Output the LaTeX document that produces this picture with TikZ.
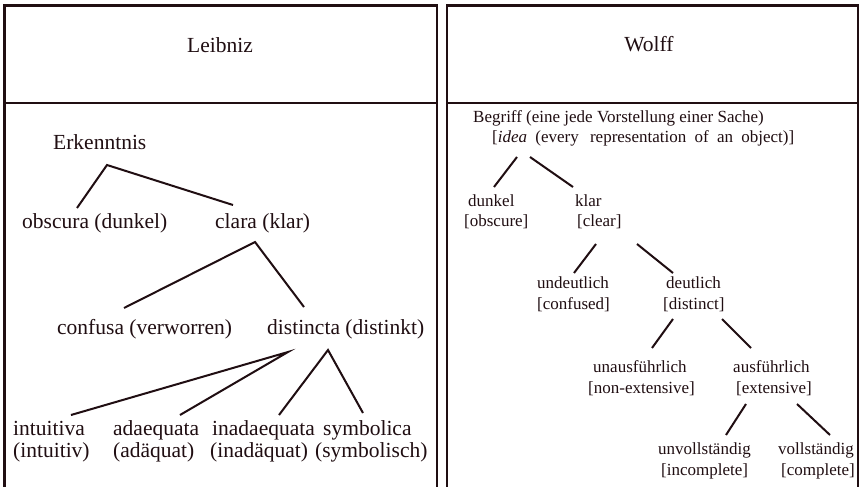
\documentclass[tikz,border=0pt]{standalone}
\usepackage{fontspec}
\setmainfont{Liberation Serif}
\definecolor{ink}{RGB}{32,14,18}
\begin{document}
\begin{tikzpicture}[x=1pt,y=-1pt,
  frame/.style={draw=ink,line width=2.6pt},
  edge/.style={draw=ink,line width=2pt},
  big/.style={font=\fontsize{21.5}{22}\selectfont,text=ink,inner sep=0pt,anchor=base west},
  small/.style={font=\fontsize{17}{20}\selectfont,text=ink,inner sep=0pt,anchor=base west},
  title/.style={font=\fontsize{21.5}{22}\selectfont,text=ink,inner sep=0pt,anchor=base}]
\useasboundingbox (0,0) rectangle (860,487);
\fill[white] (0,0) rectangle (860,487);
% frames
\draw[frame] (4.5,495) -- (4.5,5.5) -- (437,5.5) -- (437,495);
\draw[frame] (4.5,103) -- (437,103);
\draw[frame] (447,495) -- (447,5.5) -- (858,5.5) -- (858,495);
\draw[frame] (447,103) -- (858,103);
% titles
\node[title] (leibniz) at (220,53) {Leibniz};
\node[title] (wolff) at (649,52) {Wolff};
% Leibniz tree
\node[big] (erk) at (53,149) {Erkenntnis};
\node[big] (obs) at (22,228) {obscura (dunkel)};
\node[big] (cla) at (215,228) {clara (klar)};
\node[big] (con) at (57,334) {confusa (verworren)};
\node[big] (dis) at (267,334) {distincta (distinkt)};
\node[big] (int1) at (13,435) {intuitiva};
\node[big] (int2) at (13,457) {(intuitiv)};
\node[big] (ada1) at (113,435) {adaequata};
\node[big] (ada2) at (113,457) {(adäquat)};
\node[big] (ina1) at (212,435) {inadaequata};
\node[big] (ina2) at (210,457) {(inadäquat)};
\node[big] (sym1) at (323,435) {symbolica};
\node[big] (sym2) at (315,457) {(symbolisch)};
\coordinate (erkA) at (107,165);
\coordinate (obsE) at (77,208);
\coordinate (claE) at (233,205);
\coordinate (claA) at (255,242);
\coordinate (conE) at (124,308);
\coordinate (disE) at (304,307);
\coordinate (disA) at (288,352);
\coordinate (disB) at (328,350);
\coordinate (intE) at (71,415);
\coordinate (adaE) at (180,415);
\coordinate (inaE) at (279,415);
\coordinate (symE) at (363,413);
\draw[edge] (obsE) -- (erkA) -- (claE);
\draw[edge] (conE) -- (claA) -- (disE);
\draw[edge] (intE) -- (disA) -- (adaE);
\draw[edge] (inaE) -- (disB) -- (symE);
% Wolff tree
\node[small] (beg1) at (473,122) {Begriff (eine jede Vorstellung einer Sache)};
\node[small] (beg2) at (492,142) {\makebox[302pt][s]{[\textit{idea} (every\hspace{3pt} representation of an object)]}};
\node[small] (dun1) at (468,206) {dunkel};
\node[small] (dun2) at (464,226) {[obscure]};
\node[small] (kla1) at (575,206) {klar};
\node[small] (kla2) at (577,226) {[clear]};
\node[small] (und1) at (537,288) {undeutlich};
\node[small] (und2) at (537,309) {[confused]};
\node[small] (deu1) at (666,288) {deutlich};
\node[small] (deu2) at (663,309) {[distinct]};
\node[small] (una1) at (593,372) {unausführlich};
\node[small] (una2) at (588,393) {[non-extensive]};
\node[small] (aus1) at (733,372) {ausführlich};
\node[small] (aus2) at (736,393) {[extensive]};
\node[small] (unv1) at (658,454) {unvollständig};
\node[small] (unv2) at (661,475) {[incomplete]};
\node[small] (vol1) at (778,454) {vollständig};
\node[small] (vol2) at (781,475) {[complete]};
\coordinate (begA) at (517,157);
\coordinate (begB) at (530,157);
\coordinate (dunE) at (494,187);
\coordinate (klaE) at (573,187);
\coordinate (klaA) at (596,244);
\coordinate (klaB) at (637,244);
\coordinate (undE) at (574,273);
\coordinate (deuE) at (673,273);
\coordinate (deuA) at (673,319);
\coordinate (deuB) at (722,319);
\coordinate (unaE) at (652,348);
\coordinate (ausE) at (751,348);
\coordinate (ausA) at (746,404);
\coordinate (ausB) at (797,404);
\coordinate (unvE) at (726,435);
\coordinate (volE) at (830,435);
\draw[edge] (begA) -- (dunE);
\draw[edge] (begB) -- (klaE);
\draw[edge] (klaA) -- (undE);
\draw[edge] (klaB) -- (deuE);
\draw[edge] (deuA) -- (unaE);
\draw[edge] (deuB) -- (ausE);
\draw[edge] (ausA) -- (unvE);
\draw[edge] (ausB) -- (volE);
\end{tikzpicture}
\end{document}
